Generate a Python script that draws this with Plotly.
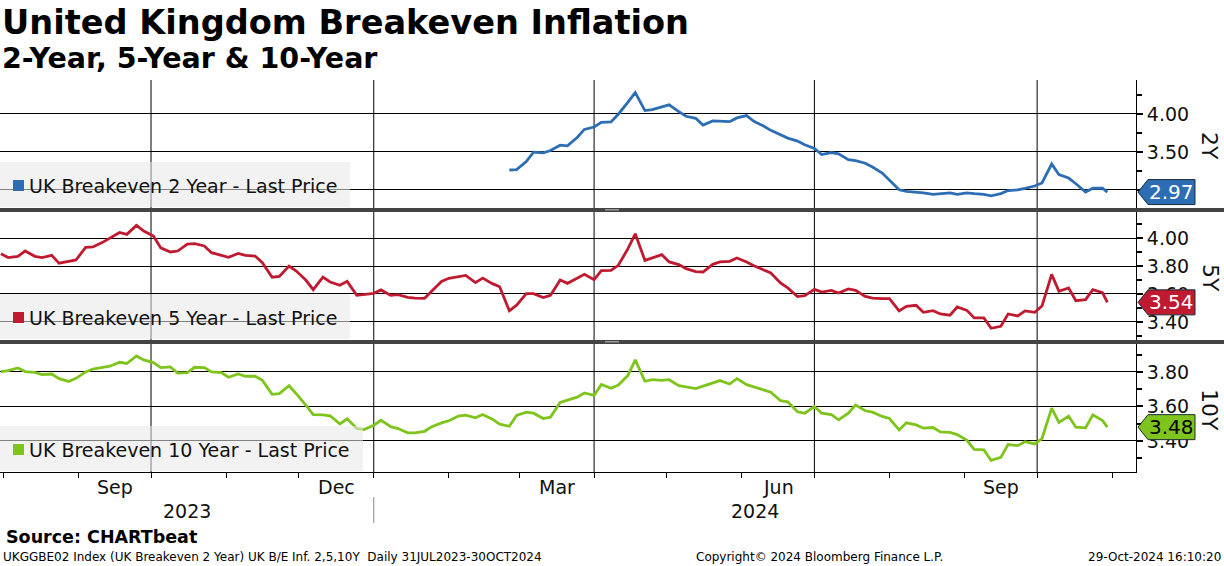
import pandas as pd
import plotly.graph_objects as go

W, H = 1224, 566

mondays = pd.date_range("2023-07-31", "2024-10-28", freq="W-MON")
thursdays = pd.date_range("2023-08-03", "2024-10-24", freq="W-THU")
dates = sorted(list(mondays) + list(thursdays)) + [pd.Timestamp("2024-10-30")]

be2y = [None] * 60 + [
    3.261, 3.265, 3.372, 3.496, 3.487, 3.518, 3.588, 3.580, 3.690, 3.796,
    3.827, 3.889, 3.894, 3.996, 4.155, 4.280, 4.044, 4.058, 4.093, 4.120,
    4.031, 3.969, 3.942, 3.854, 3.907, 3.907, 3.898, 3.947, 3.978, 3.903,
    3.841, 3.783, 3.721, 3.681, 3.642, 3.593, 3.544, 3.465, 3.491, 3.473,
    3.398, 3.385, 3.350, 3.300, 3.220, 3.120, 3.000, 2.980, 2.970, 2.960,
    2.940, 2.950, 2.960, 2.940, 2.960, 2.950, 2.940, 2.920, 2.950, 2.990,
    3.000, 3.020, 3.050, 3.090, 3.340, 3.200, 3.155, 3.080, 2.970, 3.020,
    3.020, 2.970,
]

be5y = [
    3.888, 3.860, 3.869, 3.907, 3.869, 3.860, 3.876, 3.820, 3.833, 3.843,
    3.933, 3.936, 3.969, 4.002, 4.040, 4.026, 4.090, 4.050, 4.014, 3.930,
    3.900, 3.907, 3.957, 3.960, 3.943, 3.895, 3.876, 3.862, 3.890, 3.876,
    3.871, 3.824, 3.720, 3.726, 3.800, 3.764, 3.698, 3.631, 3.720, 3.686,
    3.662, 3.690, 3.590, 3.598, 3.605, 3.629, 3.590, 3.595, 3.576, 3.571,
    3.569, 3.621, 3.690, 3.712, 3.721, 3.733, 3.681, 3.714, 3.674, 3.652,
    3.480, 3.520, 3.602, 3.602, 3.574, 3.590, 3.700, 3.676, 3.712, 3.740,
    3.702, 3.767, 3.769, 3.805, 3.924, 4.030, 3.840, 3.857, 3.881, 3.829,
    3.810, 3.781, 3.760, 3.757, 3.812, 3.829, 3.833, 3.857, 3.829, 3.802,
    3.769, 3.750, 3.679, 3.643, 3.581, 3.588, 3.633, 3.614, 3.626, 3.607,
    3.636, 3.626, 3.583, 3.571, 3.567, 3.567, 3.479, 3.512, 3.519, 3.469,
    3.481, 3.457, 3.448, 3.507, 3.483, 3.429, 3.429, 3.355, 3.369, 3.457,
    3.443, 3.479, 3.469, 3.514, 3.740, 3.619, 3.643, 3.552, 3.560, 3.631,
    3.610, 3.540,
]

be10y = [
    3.802, 3.808, 3.823, 3.802, 3.798, 3.785, 3.788, 3.761, 3.745, 3.763,
    3.800, 3.817, 3.827, 3.833, 3.856, 3.849, 3.893, 3.870, 3.854, 3.825,
    3.829, 3.794, 3.796, 3.827, 3.825, 3.800, 3.796, 3.769, 3.788, 3.775,
    3.775, 3.751, 3.670, 3.674, 3.720, 3.674, 3.606, 3.553, 3.551, 3.546,
    3.499, 3.528, 3.472, 3.466, 3.491, 3.520, 3.483, 3.472, 3.447, 3.447,
    3.456, 3.483, 3.505, 3.517, 3.544, 3.550, 3.534, 3.553, 3.526, 3.497,
    3.485, 3.548, 3.567, 3.561, 3.530, 3.538, 3.623, 3.635, 3.654, 3.678,
    3.664, 3.728, 3.705, 3.724, 3.780, 3.870, 3.746, 3.755, 3.751, 3.755,
    3.720, 3.713, 3.703, 3.718, 3.736, 3.750, 3.730, 3.761, 3.726, 3.713,
    3.699, 3.683, 3.633, 3.627, 3.569, 3.561, 3.600, 3.561, 3.553, 3.522,
    3.561, 3.608, 3.575, 3.567, 3.542, 3.530, 3.464, 3.505, 3.493, 3.474,
    3.478, 3.452, 3.450, 3.437, 3.404, 3.351, 3.348, 3.287, 3.305, 3.379,
    3.373, 3.396, 3.383, 3.414, 3.590, 3.507, 3.544, 3.480, 3.476, 3.551,
    3.518, 3.480,
]

series_names = ["UK Breakeven 2 Year - Last Price",
                "UK Breakeven 5 Year - Last Price",
                "UK Breakeven 10 Year - Last Price"]
axis_titles = ["2Y", "5Y", "10Y"]
colors = ["#2c6db3", "#c01a30", "#7ec41c"]
box_text_colors = ["white", "white", "black"]

y_ranges = [[2.76, 4.447], [3.271, 4.186], [3.22, 3.962]]
y_ticks = [[3.0, 3.5, 4.0], [3.4, 3.6, 3.8, 4.0], [3.4, 3.6, 3.8]]
y_ticktext = [["", "3.50", "4.00"], ["3.40", "3.60", "3.80", "4.00"], ["3.40", "3.60", "3.80"]]
y_minor = [[3.25, 3.75, 4.25], [3.3, 3.5, 3.7, 3.9, 4.1], [3.3, 3.5, 3.7, 3.9]]

x_range = ["2023-07-30T15:00", "2024-11-10T20:00"]
quarter_lines = ["2023-10-01", "2024-01-01", "2024-04-01", "2024-07-01", "2024-10-01"]
month_labels = ["Sep", "Dec", "Mar", "Jun", "Sep"]
month_label_dates = ["2023-09-16", "2023-12-16T12:00", "2024-03-16T12:00",
                     "2024-06-16", "2024-09-16"]
years = ["2023", "2024"]
year_break = "2024-01-01"

title = "United Kingdom Breakeven Inflation"
subtitle = "2-Year, 5-Year & 10-Year"
source = "Source: CHARTbeat"
footer_left = "UKGGBE02 Index (UK Breakeven 2 Year) UK B/E Inf. 2,5,10Y  Daily 31JUL2023-30OCT2024"
footer_mid = "Copyright\u00a9 2024 Bloomberg Finance L.P."
footer_right = "29-Oct-2024 16:10:20"

# ---------------- layout helpers ----------------
FONT = "DejaVu Sans"
def px(x):
    return x / W
def py(y):
    return 1 - y / H

panels = [(80, 208), (212, 340), (344, 472)]  # top, bottom in pixels
x_right = 1136

fig = go.Figure()
all_vals = [be2y, be5y, be10y]

shapes = []
annotations = []

for i in range(3):
    xa = "x" if i == 0 else f"x{i+1}"
    ya = "y" if i == 0 else f"y{i+1}"
    fig.add_trace(go.Scatter(x=dates, y=all_vals[i], mode="lines",
                             line=dict(color=colors[i], width=2.8),
                             xaxis=xa, yaxis=ya, showlegend=False,
                             connectgaps=False, hoverinfo="skip"))
    top, bot = panels[i]
    xkey = "xaxis" if i == 0 else f"xaxis{i+1}"
    ykey = "yaxis" if i == 0 else f"yaxis{i+1}"
    xdict = dict(domain=[0, px(x_right)], range=x_range, type="date",
                 anchor=ya, showgrid=False, zeroline=False,
                 showticklabels=False, ticks="")
    if i > 0:
        xdict["matches"] = "x"
    if i == 2:
        xdict.update(showline=True, linecolor="black", linewidth=1,
                     ticks="outside", ticklen=5, tickcolor="black",
                     dtick="M1", tick0="2023-08-01")
    fig.layout[xkey] = xdict
    fig.layout[ykey] = dict(
        domain=[py(bot), py(top)], range=y_ranges[i], anchor=xa, side="right",
        tickvals=y_ticks[i], ticktext=y_ticktext[i],
        showgrid=True, gridcolor="black", gridwidth=1, zeroline=False,
        showline=True, linecolor="black", linewidth=1,
        ticks="outside", ticklen=6, tickwidth=2, tickcolor="black",
        tickfont=dict(family=FONT, size=19, color="#111"),
        minor=dict(tickvals=y_minor[i], ticks="outside", ticklen=5,
                   tickcolor="black", showgrid=False),
    )

    # legend box
    lx1 = 350 if i < 2 else 363
    shapes.append(dict(type="rect", xref="paper", yref="paper",
                       x0=px(0), x1=px(lx1), y0=py(bot - 1), y1=py(bot - 46),
                       fillcolor="rgba(231,231,231,0.56)", line=dict(width=0),
                       layer="above"))
    shapes.append(dict(type="rect", xref="paper", yref="paper",
                       x0=px(13), x1=px(24), y0=py(bot - 17), y1=py(bot - 28),
                       fillcolor=colors[i], line=dict(width=0), layer="above"))
    annotations.append(dict(text=series_names[i], xref="paper", yref="paper",
                            x=px(27), y=py(bot - 22), xanchor="left", yanchor="middle",
                            showarrow=False, font=dict(family=FONT, size=19, color="#111")))

    # last value box
    lo, hi = y_ranges[i]
    last = [v for v in all_vals[i] if v is not None][-1]
    hh = (hi - lo) * 12.5 / (bot - top)
    xt, xl, xr = px(1138), px(1148), px(1195)
    path = (f"M {xt},{last} L {xl},{last + hh} L {xr},{last + hh} "
            f"L {xr},{last - hh} L {xl},{last - hh} Z")
    shapes.append(dict(type="path", path=path, xref="paper", yref=ya,
                       fillcolor=colors[i], line=dict(color="#1b2a3a", width=1),
                       layer="above"))
    annotations.append(dict(text=f"{last:.2f}", xref="paper", yref=ya,
                            x=px(1171), y=last, xanchor="center", yanchor="middle",
                            showarrow=False,
                            font=dict(family=FONT, size=20, color=box_text_colors[i])))
    # axis title
    annotations.append(dict(text=axis_titles[i], xref="paper", yref="paper",
                            x=px(1210), y=py((top + bot) / 2 + 2), textangle=90,
                            xanchor="center", yanchor="middle", showarrow=False,
                            font=dict(family=FONT, size=22, color="#111")))

# vertical quarter lines
for d in quarter_lines:
    shapes.append(dict(type="line", xref="x", yref="paper", x0=d, x1=d,
                       y0=py(472), y1=py(80), line=dict(color="black", width=1),
                       layer="below"))

# separators between panels
for ysep in (208, 340):
    shapes.append(dict(type="rect", xref="paper", yref="paper",
                       x0=0, x1=1, y0=py(ysep + 4), y1=py(ysep),
                       fillcolor="#444444", line=dict(width=0), layer="above"))
    shapes.append(dict(type="rect", xref="paper", yref="paper",
                       x0=px(605), x1=px(619), y0=py(ysep + 2.5), y1=py(ysep + 1),
                       fillcolor="#9a9a9a", line=dict(width=0), layer="above"))

# year separator
shapes.append(dict(type="line", xref="x3", yref="paper", x0=year_break, x1=year_break,
                   y0=py(523), y1=py(497), line=dict(color="#888", width=1)))

# month labels
for lab, d in zip(month_labels, month_label_dates):
    annotations.append(dict(text=lab, xref="x3", yref="paper", x=d, y=py(487),
                            xanchor="center", yanchor="middle", showarrow=False,
                            font=dict(family=FONT, size=19, color="#111")))
# year labels
t0 = pd.Timestamp(x_range[0]); t1 = pd.Timestamp(x_range[1]); tb = pd.Timestamp(year_break)
annotations.append(dict(text=years[0], xref="x3", yref="paper", x=t0 + (tb - t0) / 2,
                        y=py(511), showarrow=False, xanchor="center", yanchor="middle",
                        font=dict(family=FONT, size=19, color="#111")))
annotations.append(dict(text=years[1], xref="x3", yref="paper", x=tb + (t1 - tb) / 2,
                        y=py(511), showarrow=False, xanchor="center", yanchor="middle",
                        font=dict(family=FONT, size=19, color="#111")))

# titles and footer
annotations.append(dict(text=f"<b>{title}</b>", xref="paper", yref="paper", x=0, y=py(23),
                        xanchor="left", yanchor="middle", showarrow=False,
                        font=dict(family=FONT, size=33.6, color="black")))
annotations.append(dict(text=f"<b>{subtitle}</b>", xref="paper", yref="paper", x=0, y=py(59),
                        xanchor="left", yanchor="middle", showarrow=False,
                        font=dict(family=FONT, size=28.5, color="black")))
annotations.append(dict(text=f"<b>{source}</b>", xref="paper", yref="paper", x=px(4), y=py(537),
                        xanchor="left", yanchor="middle", showarrow=False,
                        font=dict(family=FONT, size=17.5, color="black")))
annotations.append(dict(text=footer_left, xref="paper", yref="paper", x=px(1), y=py(557),
                        xanchor="left", yanchor="middle", showarrow=False,
                        font=dict(family=FONT, size=12, color="black")))
annotations.append(dict(text=footer_mid, xref="paper", yref="paper", x=px(694), y=py(557),
                        xanchor="left", yanchor="middle", showarrow=False,
                        font=dict(family=FONT, size=12, color="black")))
annotations.append(dict(text=footer_right, xref="paper", yref="paper", x=px(1223), y=py(557),
                        xanchor="right", yanchor="middle", showarrow=False,
                        font=dict(family=FONT, size=12, color="black")))

fig.update_layout(width=W, height=H, margin=dict(l=0, r=0, t=0, b=0),
                  paper_bgcolor="white", plot_bgcolor="white",
                  shapes=shapes, annotations=annotations, showlegend=False)

fig.write_html("out.html", config={"displayModeBar": False},
               post_script="document.body.style.margin='0';document.body.style.overflow='hidden';")
